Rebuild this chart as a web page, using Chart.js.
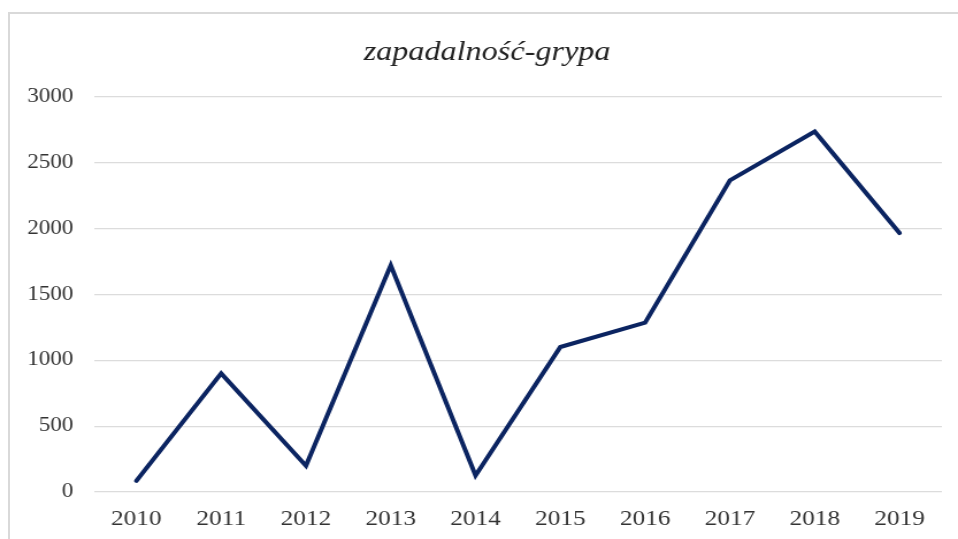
<!DOCTYPE html>
<html>
<head>
<meta charset="utf-8">
<script src="https://cdn.jsdelivr.net/npm/chart.js@4"></script>
<style>
    html, body { margin: 0; padding: 0; background: #fff; overflow: hidden; }
    #frame { position: absolute; left: 8px; top: 12px; width: 1000px; height: 600px;
             border-left: 2px solid #d9d9d9; border-top: 2px solid #d9d9d9; }
    #wrap { position: absolute; left: 0; top: 0; width: 833px; height: 539px;
            transform: scaleX(1.15006); transform-origin: 0 0; }
</style>
</head>
<body>
<div id="frame"></div>
<div id="wrap"><canvas id="fluChart"></canvas></div>
<script>
const years = ['2010', '2011', '2012', '2013', '2014', '2015', '2016', '2017', '2018', '2019'];
const incidence = [85, 900, 200, 1720, 125, 1100, 1285, 2365, 2735, 1965];
const yTicks = [0, 500, 1000, 1500, 2000, 2500, 3000];

const serif = "'Liberation Serif', 'Times New Roman', serif";
const lineColor = '#0b2461';

const initChart = () => {
    const ctx = document.getElementById('fluChart');
    new Chart(ctx, {
        type: 'line',
        data: {
            labels: years,
            datasets: [{
                label: 'zapadalność-grypa',
                data: incidence,
                borderColor: lineColor,
                backgroundColor: lineColor,
                borderWidth: 4,
                borderCapStyle: 'round',
                borderJoinStyle: 'miter',
                pointRadius: 0,
                tension: 0,
                fill: false,
            }]
        },
        options: {
            responsive: true,
            maintainAspectRatio: false,
            animation: false,
            layout: { padding: { left: 14, right: 0, top: 0, bottom: 0 } },
            plugins: {
                legend: { display: false },
                tooltip: { enabled: false },
                title: {
                    display: true,
                    text: 'zapadalność-grypa',
                    color: '#222',
                    font: { family: serif, size: 28, style: 'italic', weight: 'normal', lineHeight: 1.2 },
                    padding: { top: 36, bottom: 27 },
                },
            },
            scales: {
                x: {
                    offset: true,
                    grid: { display: false, drawTicks: false },
                    border: { display: false },
                    ticks: { color: '#333', padding: 14, font: { family: serif, size: 22 } },
                    afterFit: (scale) => { scale.height = 47; },
                },
                y: {
                    min: 0,
                    max: 3000,
                    afterBuildTicks: (scale) => { scale.ticks = yTicks.map(v => ({ value: v })); },
                    grid: { color: '#dcdcdc', lineWidth: 1.2, drawTicks: false },
                    border: { display: false },
                    ticks: {
                        color: '#333',
                        padding: 18,
                        font: { family: serif, size: 20 },
                        callback: (value) => String(value),
                    },
                    afterFit: (scale) => { scale.width = 67.7; },
                },
                // empty axis on the right, only keeps the right margin
                yRight: {
                    position: 'right',
                    grid: { display: false, drawTicks: false },
                    border: { display: false },
                    ticks: { display: false },
                    afterFit: (scale) => { scale.width = 14; },
                },
            },
        },
    });
};

window.addEventListener('DOMContentLoaded', initChart);
</script>
</body>
</html>
